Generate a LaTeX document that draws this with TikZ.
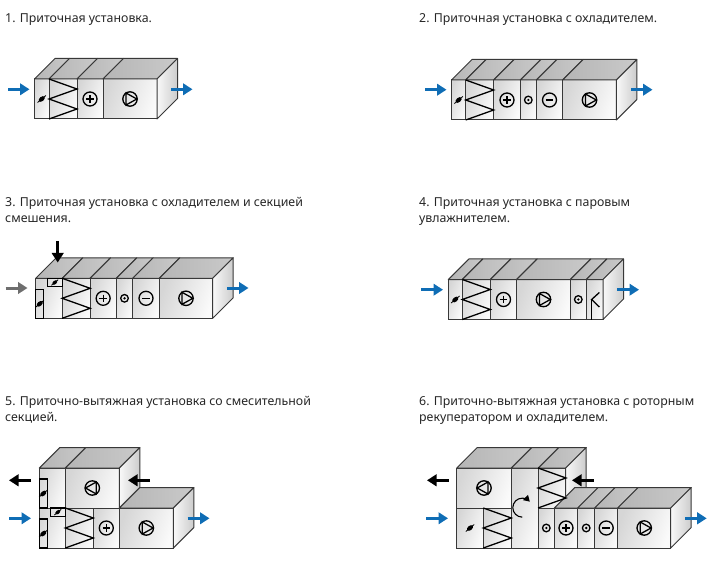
\documentclass[tikz,border=0pt]{standalone}
\usepackage{fontspec}
\setmainfont{Noto Sans}
\usetikzlibrary{arrows.meta, positioning, calc}
\definecolor{flowblue}{HTML}{0F6DB5}
\definecolor{flowgray}{HTML}{6E6E6E}
\definecolor{edgegray}{HTML}{383838}
\tikzset{
    caption/.style={anchor=north west, align=left, inner sep=0pt, text=black!85, font=\fontsize{12.35}{16}\selectfont},
    sect/.style={draw=edgegray, line width=1pt, rectangle, inner sep=0pt, outer sep=0pt, minimum width=#1, minimum height=40pt, left color=gray!32, right color=gray!4, shading angle=70},
    topface/.style={draw=edgegray, line width=1pt, line join=round, left color=gray!58, right color=gray!42},
    sideface/.style={draw=edgegray, line width=1pt, line join=round, left color=gray!5, right color=gray!40},
    flowin/.style={line width=3pt, flowblue, -{Triangle[length=9.5pt,width=11.5pt]}},
    flowout/.style={line width=3pt, black, -{Triangle[length=9.5pt,width=11.5pt]}},
    flowmix/.style={line width=3pt, flowgray, -{Triangle[length=9.5pt,width=11.5pt]}},
    symb/.style={line width=1.3pt, black},
    framed/.style={draw=black, line width=1.2pt, rectangle, inner sep=0pt, outer sep=0pt},
    coilpic/.pic={\draw[line width=1.3pt, line join=miter] (-14,-20) -- (14,-10) -- (-14,0) -- (14,10) -- (-14,20);},
    heatpic/.pic={\draw[symb] (0,0) circle (7); \draw[symb] (-3.8,0) -- (3.8,0) (0,-3.8) -- (0,3.8);},
    coolpic/.pic={\draw[symb] (0,0) circle (7); \draw[symb] (-3.8,0) -- (3.8,0);},
    humidpic/.pic={\draw[symb] (0,0) circle (3.8); \fill (0,0) circle (1.3);},
    fanpic/.pic={\draw[symb] (0,0) circle (7.2); \draw[symb] (-4,-6) -- (6.8,0) -- (-4,6) -- cycle;},
    fanleft/.pic={\draw[symb] (0,0) circle (7.2); \draw[symb] (4,-6) -- (-6.8,0) -- (4,6) -- cycle;},
    damppic/.pic={\fill[rotate=40] (0,0) ellipse (3.6 and 2.2); \draw[line width=0.8pt, rotate=40] (-5.5,0) -- (5.5,0);},
    rotorpic/.pic={\draw[line width=1.1pt, -{Triangle[length=6pt,width=7pt]}] (0,9.5) .. controls (-5.25,9.5) and (-9.5,5.25) .. (-9.5,0) .. controls (-9.5,-5.25) and (-5.25,-9.5) .. (0,-9.5) .. controls (2.6,-9.5) and (5,-8.4) .. (7.5,-6);},
    nozzlepic/.pic={\draw[line width=1.3pt] (4.7,-7) -- (-3,0) -- (4.7,7.5); \draw[line width=1.6pt] (-3,0) -- (-3,20);}
}
% top and side faces of one casing
\newcommand{\topfaces}[2]{%
    \foreach \s in {#1}
        \draw[topface] (\s.north west) -- (\s.north east) -- ($(\s.north east)+(#2,-#2)$) -- ($(\s.north west)+(#2,-#2)$) -- cycle;
}
\newcommand{\sidefaces}[2]{%
    \draw[sideface] (#1.north east) -- (#1.south east) -- ($(#1.south east)+(#2,-#2)$) -- ($(#1.north east)+(#2,-#2)$) -- cycle;
}
\begin{document}
\begin{tikzpicture}[x=1pt, y=-1pt]
    \useasboundingbox (0,0) rectangle (715,572);

    % Captions
    \node[caption] (cap1) at (5,13.5) {1. Приточная установка.};
    \node[caption] (cap2) at (419,13.5) {2. Приточная установка с охладителем.};
    \node[caption] (cap3) at (5,197) {3. Приточная установка с охладителем и секцией\\смешения.};
    \node[caption] (cap4) at (419,197) {4. Приточная установка с паровым\\увлажнителем.};
    \node[caption] (cap5) at (5,396) {5. Приточно-вытяжная установка со смесительной\\секцией.};
    \node[caption] (cap6) at (419,396) {6. Приточно-вытяжная установка с роторным\\рекуператором и охладителем.};

    % Unit 1
    \node[sect=14.5pt, anchor=north west] (a1) at (34.5,79) {};
    \node[sect=28pt, right=0pt of a1] (a2) {};
    \node[sect=26pt, right=0pt of a2] (a3) {};
    \node[sect=54pt, right=0pt of a3] (a4) {};
    \topfaces{a1,a2,a3,a4}{20.5}
    \sidefaces{a4}{20.5}
    \pic at (a1) {damppic};
    \pic at (a2) {coilpic};
    \pic at (a3) {heatpic};
    \pic at (a4) {fanpic};
    \coordinate (a0) at (8,89.3);
    \coordinate (a5) at (29.5,89.3);
    \coordinate (a6) at (171,89.3);
    \coordinate (a7) at (192.5,89.3);
    \draw[flowin] (a0) -- (a5);
    \draw[flowin] (a6) -- (a7);

    % Unit 2
    \node[sect=14.2pt, anchor=north west] (b1) at (451.5,80) {};
    \node[sect=28pt, right=0pt of b1] (b2) {};
    \node[sect=26.6pt, right=0pt of b2] (b3) {};
    \node[sect=16pt, right=0pt of b3] (b4) {};
    \node[sect=26.4pt, right=0pt of b4] (b5) {};
    \node[sect=53.6pt, right=0pt of b5] (b6) {};
    \topfaces{b1,b2,b3,b4,b5,b6}{20.5}
    \sidefaces{b6}{20.5}
    \pic at (b1) {damppic};
    \pic at (b2) {coilpic};
    \pic at (b3) {heatpic};
    \pic at (b4) {humidpic};
    \pic at (b5) {coolpic};
    \pic at (b6) {fanpic};
    \coordinate (b0) at (425,89.7);
    \coordinate (b7) at (446.5,89.7);
    \coordinate (b8) at (631,89.7);
    \coordinate (b9) at (652.5,89.7);
    \draw[flowin] (b0) -- (b7);
    \draw[flowin] (b8) -- (b9);

    % Unit 3
    \node[sect=26.6pt, anchor=north west] (c1) at (35.7,278.3) {};
    \node[sect=27.7pt, right=0pt of c1] (c2) {};
    \node[sect=26.3pt, right=0pt of c2] (c3) {};
    \node[sect=16.4pt, right=0pt of c3] (c4) {};
    \node[sect=26.6pt, right=0pt of c4] (c5) {};
    \node[sect=53.4pt, right=0pt of c5] (c6) {};
    \topfaces{c1,c2,c3,c4,c5,c6}{20.5}
    \sidefaces{c6}{20.5}
    \node[framed, minimum width=8pt, minimum height=29pt, anchor=south west] (c1a) at (c1.south west) {};
    \node[framed, minimum width=15pt, minimum height=8.4pt, anchor=north east] (c1b) at (c1.north east) {};
    \pic at (c1a) {damppic};
    \pic[scale=0.8] at (c1b) {damppic};
    \pic at (c2) {coilpic};
    \pic at (c3) {heatpic};
    \pic at (c4) {humidpic};
    \pic at (c5) {coolpic};
    \pic at (c6) {fanpic};
    \coordinate (c0) at (5.5,288);
    \coordinate (c7) at (27.5,288);
    \coordinate (c8) at (57.7,241);
    \coordinate (c9) at (57.7,262.5);
    \coordinate (c10) at (227,288);
    \coordinate (c11) at (248.5,288);
    \draw[flowmix] (c0) -- (c7);
    \draw[flowout] (c8) -- (c9);
    \draw[flowin] (c10) -- (c11);

    % Unit 4
    \node[sect=14pt, anchor=north west] (d1) at (448.3,279.5) {};
    \node[sect=28pt, right=0pt of d1] (d2) {};
    \node[sect=26.4pt, right=0pt of d2] (d3) {};
    \node[sect=53.6pt, right=0pt of d3] (d4) {};
    \node[sect=16pt, right=0pt of d4] (d5) {};
    \node[sect=16.7pt, right=0pt of d5] (d6) {};
    \topfaces{d1,d2,d3,d4,d5,d6}{20.5}
    \sidefaces{d6}{20.5}
    \pic at (d1) {damppic};
    \pic at (d2) {coilpic};
    \pic at (d3) {heatpic};
    \pic at (d4) {fanpic};
    \pic at (d5) {humidpic};
    \pic at (d6) {nozzlepic};
    \coordinate (d0) at (421,289.7);
    \coordinate (d7) at (443,289.7);
    \coordinate (d8) at (617,289.7);
    \coordinate (d9) at (639,289.7);
    \draw[flowin] (d0) -- (d7);
    \draw[flowin] (d8) -- (d9);

    % Unit 5
    \node[sect=26pt, anchor=north west] (e1) at (39.3,468) {};
    \node[sect=54pt, right=0pt of e1] (e2) {};
    \topfaces{e1,e2}{20.5}
    \sidefaces{e2}{20.5}
    \node[sect=26pt, below=0pt of e1] (e3) {};
    \node[sect=28pt, right=0pt of e3] (e4) {};
    \node[sect=26pt, right=0pt of e4] (e5) {};
    \node[sect=54pt, right=0pt of e5] (e6) {};
    \topfaces{e6}{20.5}
    \sidefaces{e6}{20.5}
    \node[framed, minimum width=8pt, minimum height=29pt, anchor=south west] (e1a) at (e1.south west) {};
    \node[framed, minimum width=8pt, minimum height=29pt, anchor=south west] (e3a) at (e3.south west) {};
    \node[framed, minimum width=15pt, minimum height=8.4pt, anchor=north east] (e3b) at (e3.north east) {};
    \pic at (e1a) {damppic};
    \pic at (e3a) {damppic};
    \pic[scale=0.8] at (e3b) {damppic};
    \pic at (e2) {fanleft};
    \pic at (e4) {coilpic};
    \pic at (e5) {heatpic};
    \pic at (e6) {fanpic};
    \coordinate (e0) at (31,480.3);
    \coordinate (e7) at (9,480.3);
    \coordinate (e8) at (150,480.3);
    \coordinate (e9) at (128,480.3);
    \coordinate (e10) at (9,518.3);
    \coordinate (e11) at (31,518.3);
    \coordinate (e12) at (187.5,518.3);
    \coordinate (e13) at (209.5,518.3);
    \draw[flowout] (e0) -- (e7);
    \draw[flowout] (e8) -- (e9);
    \draw[flowin] (e10) -- (e11);
    \draw[flowin] (e12) -- (e13);

    % Unit 6
    \node[sect=54.6pt, anchor=north west] (f1) at (456.7,468) {};
    \node[sect=27pt, minimum height=80.3pt, anchor=north west] (f2) at (f1.north east) {};
    \node[sect=27.4pt, anchor=north west] (f3) at (f2.north east) {};
    \topfaces{f1,f2,f3}{20.5}
    \sidefaces{f3}{20.5}
    \node[sect=26.6pt, below=0pt of f1.south west, anchor=north west] (f4) {};
    \node[sect=28pt, right=0pt of f4] (f5) {};
    \node[sect=16pt, below=0pt of f3.south west, anchor=north west] (f6) {};
    \node[sect=23.4pt, right=0pt of f6] (f7) {};
    \node[sect=17pt, right=0pt of f7] (f8) {};
    \node[sect=23pt, right=0pt of f8] (f9) {};
    \node[sect=53pt, right=0pt of f9] (f10) {};
    \topfaces{f7,f8,f9,f10}{20.5}
    \sidefaces{f10}{20.5}
    \pic at (f1) {fanleft};
    \pic at ($(f2)+(-2.5,-0.5)$) {rotorpic};
    \pic at (f3) {coilpic};
    \pic at (f4) {damppic};
    \pic at (f5) {coilpic};
    \pic at (f6) {humidpic};
    \pic at (f7) {heatpic};
    \pic at (f8) {humidpic};
    \pic at (f9) {coolpic};
    \pic at (f10) {fanpic};
    \coordinate (f0) at (448.7,480.3);
    \coordinate (f11) at (427,480.3);
    \coordinate (f12) at (593.7,480.3);
    \coordinate (f13) at (572,480.3);
    \coordinate (f14) at (426.3,518.3);
    \coordinate (f15) at (448,518.3);
    \coordinate (f16) at (685,518.3);
    \coordinate (f17) at (706.7,518.3);
    \draw[flowout] (f0) -- (f11);
    \draw[flowout] (f12) -- (f13);
    \draw[flowin] (f14) -- (f15);
    \draw[flowin] (f16) -- (f17);
\end{tikzpicture}
\end{document}
